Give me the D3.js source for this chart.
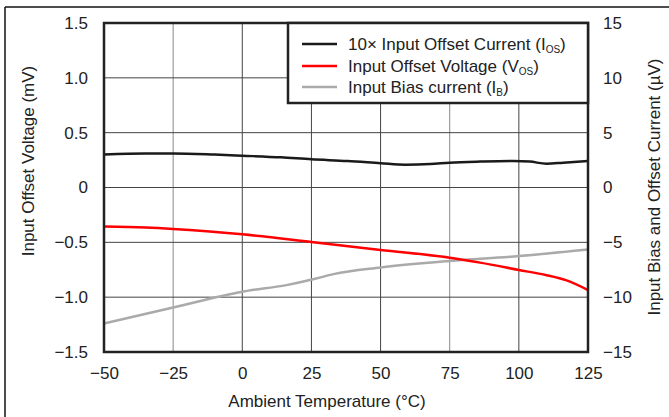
<!DOCTYPE html>
<html>
<head>
<meta charset="utf-8">
<script src="https://cdn.jsdelivr.net/npm/d3@7"></script>
<style>
  body { margin: 0; background: #fff; }
  svg text { font-family: "Liberation Sans", Arial, sans-serif; fill: #222; }
</style>
</head>
<body>
<div id="chart"></div>
<script>
// Data
const tempTicks = [-50, -25, 0, 25, 50, 75, 100, 125];
const leftTicks = [-1.5, -1.0, -0.5, 0, 0.5, 1.0, 1.5];
const rightTicks = [-15, -10, -5, 0, 5, 10, 15];

// 10x input offset current (right axis units)
const iosTemp = [-50, -35, -25, -10, 0, 14, 25, 38, 50, 59, 68, 75, 86, 98, 104, 110, 116, 125];
const iosVal = [3.0, 3.1, 3.1, 3.0, 2.9, 2.75, 2.57, 2.42, 2.22, 2.08, 2.14, 2.26, 2.36, 2.42, 2.36, 2.17, 2.26, 2.42];

// Input offset voltage (left axis, mV)
const vosTemp = [-50, -35, -25, 0, 25, 50, 75, 86, 100, 110, 117, 125];
const vosVal = [-0.355, -0.365, -0.378, -0.427, -0.497, -0.57, -0.64, -0.685, -0.752, -0.8, -0.845, -0.935];

// Input bias current (right axis units)
const ibTemp = [-50, -25, 0, 16, 26, 33, 50, 75, 100, 125];
const ibVal = [-12.4, -10.95, -9.5, -8.9, -8.35, -7.9, -7.3, -6.7, -6.25, -5.65];

const width = 669;
const height = 417;
const margin = { top: 23, right: 81, bottom: 65, left: 104 };

const svg = d3.select("#chart")
    .append("svg")
    .attr("width", width)
    .attr("height", height);

// outer page border (top and left)
svg.append("line").attr("x1", 5).attr("x2", width).attr("y1", 7).attr("y2", 7)
    .attr("stroke", "#111").attr("stroke-width", 1.5);
svg.append("line").attr("x1", 5).attr("x2", 5).attr("y1", 7).attr("y2", height)
    .attr("stroke", "#111").attr("stroke-width", 1.5);

const x = d3.scaleLinear()
    .domain([-50, 125])
    .range([margin.left, width - margin.right]);

const yL = d3.scaleLinear()
    .domain([-1.5, 1.5])
    .range([height - margin.bottom, margin.top]);

const yR = d3.scaleLinear()
    .domain([-15, 15])
    .range([height - margin.bottom, margin.top]);

// Gridlines
svg.append("g")
    .selectAll("line")
    .data(tempTicks.slice(1, -1))
    .join("line")
    .attr("x1", d => x(d)).attr("x2", d => x(d))
    .attr("y1", margin.top).attr("y2", height - margin.bottom)
    .attr("stroke", d => (d === -25 || d === 75) ? "#888" : "#444")
    .attr("stroke-width", 1);

svg.append("g")
    .selectAll("line")
    .data(leftTicks.slice(1, -1))
    .join("line")
    .attr("x1", margin.left).attr("x2", width - margin.right)
    .attr("y1", d => yL(d)).attr("y2", d => yL(d))
    .attr("stroke", "#444")
    .attr("stroke-width", 1);

// Curves
const lineR = d3.line()
    .x(d => x(d[0]))
    .y(d => yR(d[1]))
    .curve(d3.curveMonotoneX);

const lineL = d3.line()
    .x(d => x(d[0]))
    .y(d => yL(d[1]))
    .curve(d3.curveMonotoneX);

svg.append("path")
    .datum(ibTemp.map((t, i) => [t, ibVal[i]]))
    .attr("fill", "none")
    .attr("stroke", "#aaaaaa")
    .attr("stroke-width", 2.5)
    .attr("d", lineR);

svg.append("path")
    .datum(vosTemp.map((t, i) => [t, vosVal[i]]))
    .attr("fill", "none")
    .attr("stroke", "#ff0000")
    .attr("stroke-width", 2.5)
    .attr("d", lineL);

svg.append("path")
    .datum(iosTemp.map((t, i) => [t, iosVal[i]]))
    .attr("fill", "none")
    .attr("stroke", "#1a1a1a")
    .attr("stroke-width", 2.5)
    .attr("d", lineR);

// Plot frame
svg.append("rect")
    .attr("x", margin.left)
    .attr("y", margin.top)
    .attr("width", width - margin.left - margin.right)
    .attr("height", height - margin.top - margin.bottom)
    .attr("fill", "none")
    .attr("stroke", "#222")
    .attr("stroke-width", 2.5);

// Axes (labels only)
const fmtL = d => d === 0 ? "0" : d3.format(".1f")(d).replace("-", "\u2212");
const fmtR = d => String(d).replace("-", "\u2212");
const fmtX = d => String(d).replace("-", "\u2212");

const xAxis = svg.append("g")
    .attr("transform", `translate(0, ${height - margin.bottom})`)
    .call(d3.axisBottom(x).tickValues(tempTicks).tickSize(0).tickPadding(15).tickFormat(fmtX));

const lAxis = svg.append("g")
    .attr("transform", `translate(${margin.left}, 0)`)
    .call(d3.axisLeft(yL).tickValues(leftTicks).tickSize(0).tickPadding(16).tickFormat(fmtL));

const rAxis = svg.append("g")
    .attr("transform", `translate(${width - margin.right}, 0)`)
    .call(d3.axisRight(yR).tickValues(rightTicks).tickSize(0).tickPadding(15).tickFormat(fmtR));

[xAxis, lAxis, rAxis].forEach(g => {
    g.select(".domain").remove();
    g.selectAll("text")
        .style("font-size", "17px")
        .style("font-family", "'Liberation Sans', Arial, sans-serif")
        .attr("fill", "#222");
});

// Axis titles
svg.append("text")
    .attr("x", 327)
    .attr("y", 407)
    .attr("text-anchor", "middle")
    .style("font-size", "17px")
    .text("Ambient Temperature (°C)");

svg.append("text")
    .attr("transform", "translate(34, 161) rotate(-90)")
    .attr("text-anchor", "middle")
    .style("font-size", "17px")
    .text("Input Offset Voltage (mV)");

svg.append("text")
    .attr("transform", "translate(660, 187) rotate(-90)")
    .attr("text-anchor", "middle")
    .style("font-size", "17px")
    .text("Input Bias and Offset Current (µV)");

// Legend
const legendItems = [
    { main: "10× Input Offset Current (I", sub: "OS", color: "#1a1a1a" },
    { main: "Input Offset Voltage (V", sub: "OS", color: "#ff0000" },
    { main: "Input Bias current (I", sub: "B", color: "#aaaaaa" }
];
const legendRows = [44, 66, 87];

svg.append("rect")
    .attr("x", 288)
    .attr("y", margin.top)
    .attr("width", width - margin.right - 288)
    .attr("height", 80)
    .attr("fill", "#fff")
    .attr("stroke", "#222")
    .attr("stroke-width", 2.5);

const legend = svg.append("g")
    .selectAll("g")
    .data(legendItems)
    .join("g")
    .attr("transform", (d, i) => `translate(0, ${legendRows[i]})`);

legend.append("line")
    .attr("x1", 302).attr("x2", 337)
    .attr("stroke", d => d.color)
    .attr("stroke-width", 2.5);

const lt = legend.append("text")
    .attr("x", 348)
    .attr("y", 6)
    .style("font-size", "17px");
lt.append("tspan").text(d => d.main);
lt.append("tspan")
    .attr("dy", 3)
    .style("font-size", "10px")
    .text(d => d.sub);
lt.append("tspan")
    .attr("dy", -3)
    .text(")");
</script>
</body>
</html>
